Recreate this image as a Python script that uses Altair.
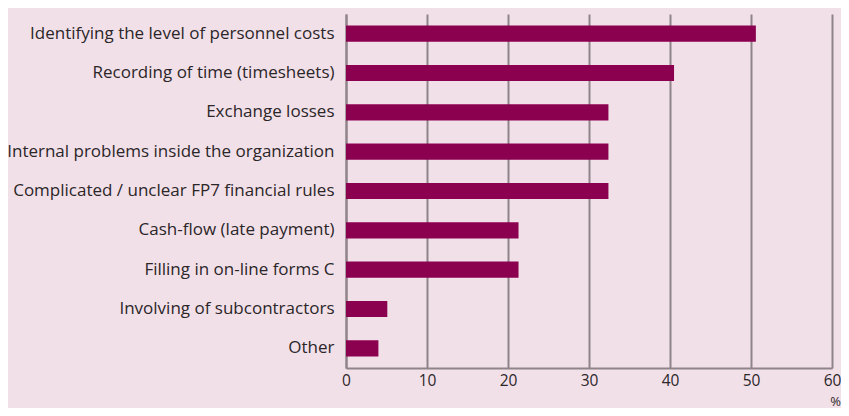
import altair as alt
import pandas as pd

categories = [
    "Identifying the level of personnel costs",
    "Recording of time (timesheets)",
    "Exchange losses",
    "Internal problems inside the organization",
    "Complicated / unclear FP7 financial rules",
    "Cash-flow (late payment)",
    "Filling in on-line forms C",
    "Involving of subcontractors",
    "Other",
]
values = [50.6, 40.5, 32.4, 32.4, 32.4, 21.3, 21.3, 5.1, 4.0]

df = pd.DataFrame({"cat": categories, "val": values})

BG = "#f2e0e9"
GRID = "#8e8489"
TXT = "#2b2628"
FONT = "Open Sans"

chart = (
    alt.Chart(df)
    .mark_bar(color="#8c0050")
    .encode(
        x=alt.X(
            "val:Q",
            scale=alt.Scale(domain=[0, 60], nice=False, zero=True),
            axis=alt.Axis(
                values=[0, 10, 20, 30, 40, 50, 60],
                title="%",
                titleX=489,
                titleY=40,
                titleAlign="center",
                titleBaseline="bottom",
                titleFont=FONT,
                titleFontSize=13,
                titleFontWeight="normal",
                titleColor=TXT,
                labelFont=FONT,
                labelFontSize=15.5,
                labelColor=TXT,
                labelPadding=5,
                ticks=False,
                grid=True,
                gridColor=GRID,
                gridWidth=2,
                gridOpacity=1,
                domainColor=GRID,
                domainWidth=2,
                labelFlush=False,
            ),
        ),
        y=alt.Y(
            "cat:N",
            sort=categories,
            scale=alt.Scale(paddingInner=0.59, paddingOuter=0.295),
            axis=alt.Axis(
                title=None,
                labelFont=FONT,
                labelFontSize=17,
                labelColor=TXT,
                labelPadding=12,
                labelLimit=400,
                ticks=False,
                domainColor=GRID,
                domainWidth=2,
                grid=False,
            ),
        ),
    )
    .properties(
        width=486,
        height=354,
        background=BG,
        padding={"left": 338, "top": 6, "right": 9, "bottom": 40},
        autosize=alt.AutoSizeParams(type="none"),
    )
    .configure_view(stroke=None)
)

chart.save("out.html", embed_options={"renderer": "svg", "actions": False})
